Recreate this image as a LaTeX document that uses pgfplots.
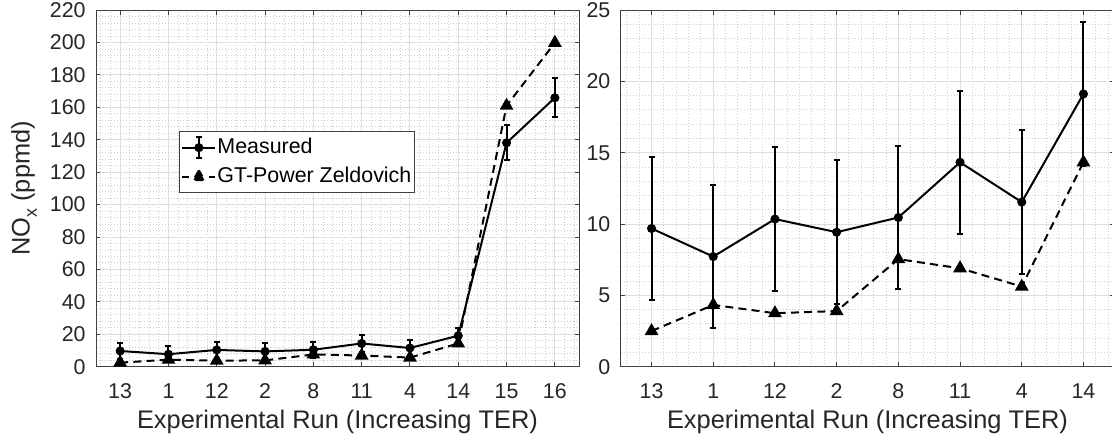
\documentclass[border=0pt]{standalone}
\usepackage{pgfplots}
\pgfplotsset{compat=1.18}
\usepackage{pgfplotstable}
\usepackage{fontspec}
\setmainfont{Liberation Sans}
\definecolor{txt}{HTML}{262626}
\definecolor{axc}{HTML}{404040}

\pgfplotstableread{
x y e
0 9.69 5.03
1 7.72 5.03
2 10.35 5.03
3 9.43 5.03
4 10.46 5.03
5 14.33 5.03
6 11.54 5.03
7 19.12 5.03
8 138.1 10.8
9 165.9 12.0
}\measL
\pgfplotstableread{
x y
0 2.5
1 4.33
2 3.75
3 3.9
4 7.54
5 6.9
6 5.62
7 14.33
8 161.0
9 199.8
}\gtL
\pgfplotstableread{
x y e
0 9.69 5.03
1 7.72 5.03
2 10.35 5.03
3 9.43 5.03
4 10.46 5.03
5 14.33 5.03
6 11.54 5.03
7 19.12 5.03
}\measR
\pgfplotstableread{
x y
0 2.5
1 4.33
2 3.75
3 3.9
4 7.54
5 6.9
6 5.62
7 14.33
}\gtR

\pgfplotsset{
  myaxis/.style={
    scale only axis,
    anchor=south west,
    axis line style={axc, line width=0.5pt},
    tick style={axc, line width=0.5pt},
    major tick length=2.2pt,
    minor tick length=0pt,
    tick align=inside,
    xtick pos=both, ytick pos=both,
    grid=both,
    major grid style={solid, black!13, line width=0.5pt},
    minor grid style={dash pattern=on 0.5pt off 1pt, black!20, line width=0.5pt},
    tick label style={font=\fontsize{10.7}{12}\selectfont, text=txt},
    /pgf/number format/assume math mode=true,
    yticklabel style={inner sep=0pt, xshift=-5pt},
    xticklabel style={inner sep=0pt, yshift=-8.2pt},
    label style={font=\fontsize{12.7}{14}\selectfont, text=txt},
    xlabel={Experimental Run (Increasing TER)},
    xlabel style={at={(axis description cs:0.5,-0.154)}, anchor=center},
  },
  meas/.style={black, solid, line width=1pt, mark=*, mark size=1.75pt,
    mark options={solid},
    error bars/y dir=both, error bars/y explicit,
    error bars/error bar style={line width=1pt, solid},
    error bars/error mark options={rotate=90, mark size=1.5pt, line width=1pt, solid}},
  gt/.style={black, line width=1pt, dash pattern=on 4pt off 2.6pt,
    mark=triangle*, mark size=3pt, mark options={solid}},
}

\begin{document}
\begin{tikzpicture}
\begin{axis}[myaxis,
  at={(48pt,36.65pt)}, width=241.5pt, height=178.3pt,
  xmin=-0.5, xmax=9.5, ymin=0, ymax=220,
  xtick={0,...,9}, xticklabels={13,1,12,2,8,11,4,14,15,16},
  ytick={0,20,...,220},
  minor xtick={-0.4,-0.2,...,9.41},
  minor ytick={0,4,...,220},
  ylabel={NO\raisebox{-0.55ex}{\fontsize{9}{9}\selectfont x} (ppmd)},
  ylabel style={at={(axis description cs:-0.149,0.5)}, anchor=center},
  legend style={at={(0.171,0.660)}, anchor=north west, draw=axc, line width=0.5pt,
    fill=white, font=\fontsize{10.7}{12}\selectfont, inner xsep=1.2pt, inner ysep=0.6pt,
    row sep=0pt,
    nodes={text height=7.8pt, text depth=2.2pt, inner ysep=2.3pt, inner xsep=0.6pt}},
  legend cell align=left,
]
\addplot[meas,
  legend image code/.code={
    \draw[line width=1pt, solid] (0pt,0pt) -- (16.4pt,0pt);
    \draw[line width=1pt, solid] (8.2pt,-5.4pt) -- (8.2pt,5.4pt);
    \draw[line width=1pt, solid] (6.7pt,5.4pt) -- (9.7pt,5.4pt);
    \draw[line width=1pt, solid] (6.7pt,-5.4pt) -- (9.7pt,-5.4pt);
    \fill (8.2pt,0pt) circle (1.75pt);
  }] table[x=x, y=y, y error=e] {\measL};
\addlegendentry{Measured}
\addplot[gt,
  legend image code/.code={
    \draw[line width=1pt, solid] (0pt,0pt) -- (3.2pt,0pt);
    \draw[line width=1pt, solid] (13.2pt,0pt) -- (16.4pt,0pt);
    \fill (8.2pt,0pt) +(90:3.2pt) -- +(210:3.2pt) -- +(330:3.2pt) -- cycle;
  }] table[x=x, y=y] {\gtL};
\addlegendentry{GT-Power Zeldovich}
\end{axis}

\begin{axis}[myaxis,
  at={(310.35pt,36.65pt)}, width=246.8pt, height=178.3pt,
  xmin=-0.5, xmax=7.5, ymin=0, ymax=25,
  xtick={0,...,7}, xticklabels={13,1,12,2,8,11,4,14},
  ytick={0,5,...,25},
  minor xtick={-0.4,-0.2,...,7.41},
  minor ytick={0,1,...,25},
]
\addplot[meas] table[x=x, y=y, y error=e] {\measR};
\addplot[gt] table[x=x, y=y] {\gtR};
\end{axis}
\pgfresetboundingbox
\useasboundingbox (0pt,0pt) rectangle (556pt,220pt);
\end{tikzpicture}
\end{document}
